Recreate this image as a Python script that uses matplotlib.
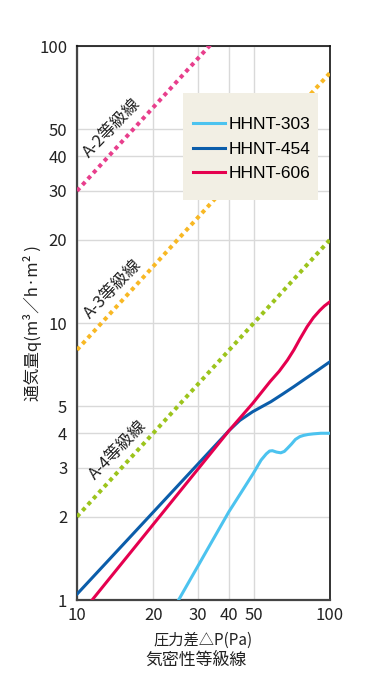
import numpy as np
import matplotlib
matplotlib.use("Agg")
import matplotlib.pyplot as plt
from matplotlib.patches import Rectangle

plt.rcParams['font.family'] = ['Noto Sans CJK JP', 'DejaVu Sans']

# grade lines (airtightness class), q at 10 Pa and 100 Pa
grade_p = [10, 100]
grade_a2 = [30, 300]
grade_a3 = [8, 80]
grade_a4 = [2, 20]

# measured products
p303 = [25.2, 39.8, 45, 49.8, 53.4, 56, 57.7, 59.2, 61.5, 63.9, 66, 67.9, 70.5, 73, 76, 78.7, 82, 86, 92, 100]
q303 = [1.0, 2.08, 2.48, 2.87, 3.20, 3.37, 3.45, 3.46, 3.42, 3.40, 3.44, 3.53, 3.66, 3.80, 3.89, 3.93, 3.96, 3.98, 4.0, 4.0]

p454 = [10, 40, 44, 49.4, 54, 58.4, 65, 71.9, 80, 90, 100]
q454 = [1.05, 4.1, 4.45, 4.78, 5.0, 5.2, 5.54, 5.89, 6.3, 6.78, 7.25]

p606 = [11.47, 40, 49.5, 58, 63, 67.9, 72, 76, 81.2, 86, 91.1, 95, 100]
q606 = [1.0, 4.1, 5.13, 6.15, 6.7, 7.35, 8.0, 8.75, 9.7, 10.46, 11.1, 11.52, 11.94]

xticks = [10, 20, 30, 40, 50, 100]
yticks = [1, 2, 3, 4, 5, 10, 20, 30, 40, 50, 100]

fig = plt.figure(figsize=(3.88, 6.9), dpi=100)
ax = fig.add_axes([0.1985, 0.1304, 0.652, 0.8029])
ax.set_xscale('log')
ax.set_yscale('log')
ax.set_xlim(10, 100)
ax.set_ylim(1, 100)

dot = dict(lw=2.9, linestyle=(0, (1, 1)), dash_capstyle='butt', zorder=3)
ax.plot(grade_p, grade_a2, color='#E83E8C', **dot)
ax.plot(grade_p, grade_a3, color='#F8B824', **dot)
ax.plot(grade_p, grade_a4, color='#9CC41C', **dot)

ax.plot(p303, q303, color='#4CC3EF', lw=2.2, label='HHNT-303', zorder=4)
ax.plot(p454, q454, color='#0B5DAA', lw=2.2, label='HHNT-454', zorder=4)
ax.plot(p606, q606, color='#E5004F', lw=2.2, label='HHNT-606', zorder=4)

# grade labels
for txt, xy in zip(["A-2等級線", "A-3等級線", "A-4等級線"],
                   [(0.138, 0.852), (0.142, 0.561), (0.162, 0.271)]):
    ax.text(xy[0], xy[1], txt, transform=ax.transAxes, rotation=46,
            ha='center', va='center', fontsize=12, color='#222222',
            rotation_mode='anchor', zorder=5)

ax.xaxis.set_major_locator(matplotlib.ticker.FixedLocator(xticks))
ax.xaxis.set_minor_locator(matplotlib.ticker.NullLocator())
ax.yaxis.set_major_locator(matplotlib.ticker.FixedLocator(yticks))
ax.yaxis.set_minor_locator(matplotlib.ticker.NullLocator())
ax.set_xticklabels([str(v) for v in xticks])
ax.set_yticklabels([str(v) for v in yticks])
ax.tick_params(axis='both', length=0, labelsize=12, colors='#222222')
ax.tick_params(axis='y', pad=7)
ax.tick_params(axis='x', pad=5)
ax.grid(True, color='#D9D9D9', lw=1.0, zorder=0)
ax.set_axisbelow(True)

for s in ['left', 'bottom']:
    ax.spines[s].set_color('#444444')
    ax.spines[s].set_linewidth(1.6)
for s in ['top', 'right']:
    ax.spines[s].set_color('#111111')
    ax.spines[s].set_linewidth(1.2)

# legend box
ax.add_patch(Rectangle((0.419, 0.722), 0.534, 0.193, transform=ax.transAxes,
                       facecolor='#F2EFE4', edgecolor='none', zorder=6))
leg = ax.legend(loc='upper left', bbox_to_anchor=(0.4585, 0.872), frameon=False,
                borderpad=0, borderaxespad=0, handlelength=1.86, handletextpad=0.2,
                labelspacing=0.55, prop={'family': 'Liberation Sans', 'size': 12.5})
leg.set_zorder(7)

ax.set_xlabel('圧力差△P(Pa)', fontsize=11, labelpad=6, color='#222222')
ax.set_ylabel('通気量q(m³／h·m² )', fontsize=12, color='#222222')
ax.yaxis.set_label_coords(-0.14, 0.5)
fig.text(196 / 388, 1 - 660 / 690, '気密性等級線', ha='center', va='center',
         fontsize=12.2, color='#222222')

fig.savefig('out.png', dpi=100)
